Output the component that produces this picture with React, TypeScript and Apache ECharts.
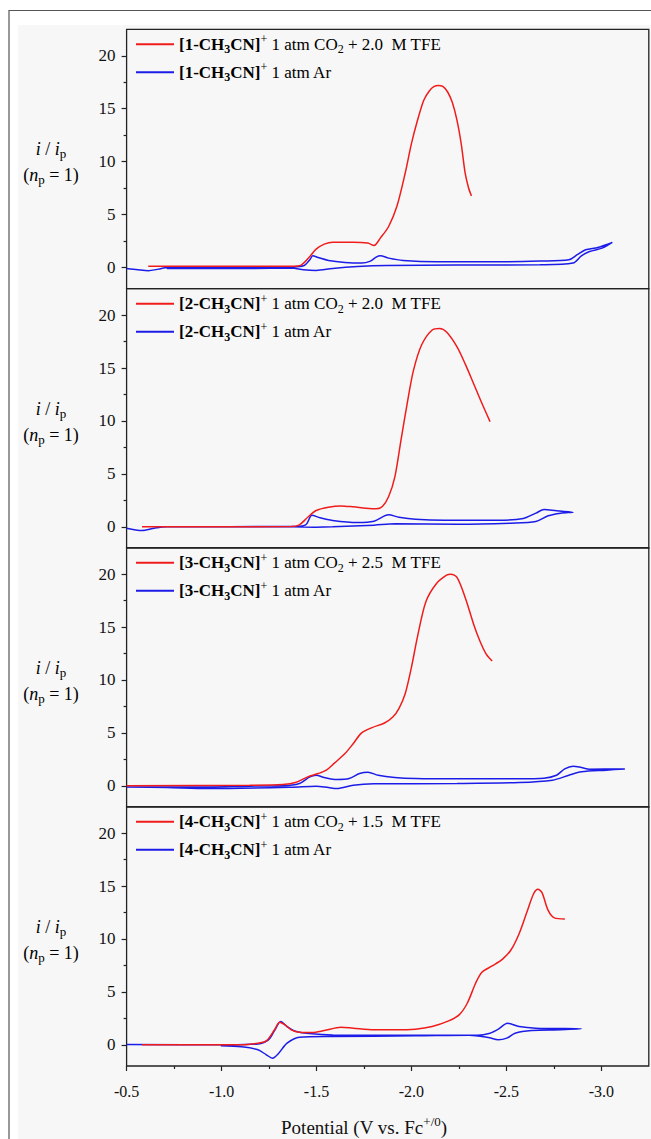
import React, { useEffect, useRef } from "react";
import * as echarts from "echarts";

// ---------- data ----------
const xMajorTicks = [-0.5, -1.0, -1.5, -2.0, -2.5, -3.0];
const xMinorTicks = [-0.75, -1.25, -1.75, -2.25, -2.75];
const yMajorTicks = [0, 5, 10, 15, 20];
const yMinorTicks = [2.5, 7.5, 12.5, 17.5];

const complexIds = ["1", "2", "3", "4"];
const tfeConc = ["2.0", "2.0", "2.5", "1.5"];

const co2Panel1: [number, number][] = [
  [-0.614, 0.1], [-1.367, 0.1], [-1.421, 0.25], [-1.465, 1.04], [-1.498, 1.73],
  [-1.541, 2.2], [-1.585, 2.39], [-1.694, 2.39], [-1.77, 2.3], [-1.803, 2.08],
  [-1.836, 2.77], [-1.88, 3.87], [-1.923, 5.75], [-1.967, 8.9], [-2.0, 11.7],
  [-2.032, 13.9], [-2.065, 15.8], [-2.095, 16.7], [-2.12, 17.1], [-2.142, 17.2], [-2.165, 17.1],
  [-2.19, 16.6], [-2.215, 15.6], [-2.24, 13.9], [-2.262, 11.7], [-2.283, 8.9], [-2.301, 7.5], [-2.316, 6.76],
];
const arPanel1: [number, number][] = [
  [-0.5, -0.1], [-0.559, -0.22], [-0.614, -0.31], [-0.668, -0.16], [-0.712, 0],
  [-1.148, 0], [-1.367, 0.06], [-1.432, 0.16], [-1.465, 0.72], [-1.48, 1.1],
  [-1.508, 0.94], [-1.563, 0.66], [-1.65, 0.47], [-1.738, 0.41], [-1.781, 0.57],
  [-1.814, 0.97], [-1.836, 1.1], [-1.88, 0.88], [-1.956, 0.66], [-2.131, 0.53],
  [-2.458, 0.53], [-2.676, 0.6], [-2.829, 0.72], [-2.873, 1.2], [-2.917, 1.67],
  [-2.982, 1.89], [-3.058, 2.36],
  [-3.004, 1.82], [-2.938, 1.5], [-2.895, 1.1], [-2.851, 0.41], [-2.676, 0.25],
  [-2.24, 0.22], [-1.869, 0.19], [-1.716, 0.09], [-1.585, -0.09], [-1.498, -0.28],
  [-1.432, -0.22], [-1.367, -0.06], [-1.148, -0.1], [-0.93, -0.1], [-0.712, -0.1],
];

const co2Panel2: [number, number][] = [
  [-0.581, 0], [-1.367, 0.03], [-1.41, 0.19], [-1.454, 0.91], [-1.498, 1.54],
  [-1.563, 1.86], [-1.629, 1.98], [-1.694, 1.89], [-1.76, 1.76], [-1.814, 1.7],
  [-1.847, 1.92], [-1.88, 2.86], [-1.913, 4.75], [-1.945, 8.2], [-1.978, 11.7],
  [-2.011, 14.8], [-2.054, 17.2], [-2.109, 18.6], [-2.148, 18.74], [-2.185, 18.4],
  [-2.24, 17.0], [-2.283, 15.4], [-2.327, 13.55], [-2.371, 11.67], [-2.414, 9.94],
];
const arPanel2: [number, number][] = [
  [-0.5, -0.13], [-0.581, -0.35], [-0.646, -0.13], [-0.712, 0], [-1.367, 0.03],
  [-1.443, 0.19], [-1.476, 1.1], [-1.519, 0.85], [-1.585, 0.6], [-1.716, 0.41],
  [-1.803, 0.53], [-1.88, 1.13], [-1.934, 0.91], [-2.021, 0.72], [-2.174, 0.63],
  [-2.458, 0.63], [-2.589, 0.79], [-2.655, 1.29], [-2.699, 1.64], [-2.764, 1.51],
  [-2.851, 1.38],
  [-2.786, 1.29], [-2.72, 1.04], [-2.655, 0.5], [-2.524, 0.35], [-2.24, 0.25],
  [-1.913, 0.28], [-1.803, 0.16], [-1.585, 0], [-1.498, -0.03], [-1.367, 0], [-0.712, 0],
];

const co2Panel3: [number, number][] = [
  [-0.5, 0], [-1.148, 0.06], [-1.323, 0.13], [-1.389, 0.31], [-1.454, 0.85],
  [-1.509, 1.16], [-1.552, 1.48], [-1.596, 2.17], [-1.65, 3.05], [-1.694, 4.0],
  [-1.738, 5.0], [-1.793, 5.5], [-1.858, 5.94], [-1.902, 6.5], [-1.934, 7.3],
  [-1.967, 8.7], [-2.0, 11.2], [-2.032, 14.1], [-2.076, 17.4], [-2.131, 19.1],
  [-2.185, 19.9], [-2.207, 20.0], [-2.24, 19.7], [-2.283, 17.8], [-2.327, 15.3],
  [-2.36, 13.7], [-2.392, 12.5], [-2.425, 11.8],
];
const arPanel3: [number, number][] = [
  [-0.5, -0.1], [-0.93, -0.1], [-1.148, -0.03], [-1.323, 0], [-1.41, 0.22],
  [-1.465, 0.85], [-1.498, 1.0], [-1.541, 0.79], [-1.607, 0.6], [-1.672, 0.69],
  [-1.727, 1.16], [-1.771, 1.29], [-1.825, 1.0], [-1.912, 0.79], [-2.021, 0.69],
  [-2.24, 0.66], [-2.567, 0.66], [-2.698, 0.72], [-2.764, 1.0], [-2.807, 1.6],
  [-2.851, 1.86], [-2.895, 1.73], [-2.938, 1.57], [-3.124, 1.6],
  [-3.026, 1.48], [-2.895, 1.32], [-2.829, 1.0], [-2.742, 0.53], [-2.567, 0.31],
  [-2.24, 0.22], [-1.803, 0.19], [-1.694, 0.06], [-1.607, -0.25], [-1.563, -0.16],
  [-1.498, -0.03], [-1.367, -0.13], [-0.93, -0.25], [-0.712, -0.16], [-0.5, -0.1],
];

const co2Panel4: [number, number][] = [
  [-0.581, 0], [-1.105, 0], [-1.192, 0.16], [-1.236, 0.38], [-1.279, 1.42],
  [-1.306, 2.14], [-1.334, 1.89], [-1.367, 1.42], [-1.41, 1.19], [-1.476, 1.16],
  [-1.541, 1.35], [-1.629, 1.67], [-1.694, 1.57], [-1.803, 1.42], [-1.912, 1.42],
  [-2.021, 1.48], [-2.109, 1.73], [-2.196, 2.26], [-2.251, 2.83], [-2.294, 3.93],
  [-2.338, 5.82], [-2.371, 6.86], [-2.425, 7.45], [-2.48, 8.1], [-2.524, 8.96],
  [-2.567, 10.5], [-2.611, 12.7], [-2.644, 14.3], [-2.666, 14.7], [-2.687, 14.4],
  [-2.72, 12.7], [-2.753, 12.0], [-2.808, 11.9],
];
const arPanel4: [number, number][] = [
  [-0.5, 0.03], [-1.039, 0], [-1.192, 0.09], [-1.247, 0.47], [-1.279, 1.35],
  [-1.312, 2.2], [-1.345, 1.73], [-1.389, 1.29], [-1.476, 1.04], [-1.585, 0.94],
  [-2.021, 0.91], [-2.349, 0.91], [-2.414, 1.1], [-2.458, 1.48], [-2.506, 2.04],
  [-2.567, 1.73], [-2.655, 1.57], [-2.895, 1.51],
  [-2.786, 1.42], [-2.633, 1.35], [-2.546, 1.1], [-2.502, 0.63], [-2.458, 0.47],
  [-2.404, 0.69], [-2.305, 0.91], [-2.021, 0.85], [-1.585, 0.79], [-1.41, 0.72],
  [-1.345, 0.16], [-1.301, -0.79], [-1.268, -1.26], [-1.236, -0.94], [-1.192, -0.47],
  [-1.105, -0.19], [-0.996, -0.09],
];

const co2Data = [co2Panel1, co2Panel2, co2Panel3, co2Panel4];
const arData = [arPanel1, arPanel2, arPanel3, arPanel4];

// ---------- layout / style ----------
const SERIF = '"Liberation Serif", "Times New Roman", "DejaVu Serif", serif';
const panelTops = [29.3, 288.7, 547.7, 806.7];
const panelH = 259.3;
const gridLeft = 126.6;
const gridW = 522.2;
const RED = "#f01c1c";
const BLUE = "#1c1ce8";
const AXIS = "#222";

export default function App() {
  const ref = useRef<HTMLDivElement>(null);
  useEffect(() => {
    if (!ref.current) return;
    const chart = echarts.init(ref.current, undefined, { renderer: "svg" });

    const grids = panelTops.map((t) => ({
      left: gridLeft,
      top: t,
      width: gridW,
      height: panelH,
      show: true,
      borderColor: AXIS,
      borderWidth: 1.3,
      backgroundColor: "transparent",
    }));

    const xAxes: any[] = panelTops.map((_, i) => ({
      type: "value",
      gridIndex: i,
      position: "bottom",
      min: -3.25,
      max: -0.5,
      inverse: true,
      axisLine: { show: false, onZero: false },
      splitLine: { show: false },
      axisTick: {
        show: i === 3,
        customValues: xMajorTicks,
        length: 5,
        lineStyle: { color: AXIS, width: 1.2 },
      },
      axisLabel: {
        show: i === 3,
        customValues: xMajorTicks,
        margin: 17,
        formatter: (v: number) => v.toFixed(1),
        fontFamily: SERIF,
        fontSize: 16,
        color: "#111",
      },
    }));
    xAxes.push({
      type: "value",
      gridIndex: 3,
      position: "bottom",
      min: -3.25,
      max: -0.5,
      inverse: true,
      axisLine: { show: false, onZero: false },
      splitLine: { show: false },
      axisLabel: { show: false },
      axisTick: {
        show: true,
        customValues: xMinorTicks,
        length: 3,
        lineStyle: { color: AXIS, width: 1.2 },
      },
    });

    const yAxes: any[] = panelTops.map((_, i) => ({
      type: "value",
      gridIndex: i,
      position: "left",
      min: -2,
      max: 22.5,
      axisLine: { show: false, onZero: false },
      splitLine: { show: false },
      axisTick: {
        show: true,
        customValues: yMajorTicks,
        length: 5,
        lineStyle: { color: AXIS, width: 1.2 },
      },
      axisLabel: {
        show: true,
        customValues: yMajorTicks,
        margin: 11,
        fontFamily: SERIF,
        fontSize: 17,
        color: "#111",
      },
    }));
    panelTops.forEach((_, i) => {
      yAxes.push({
        type: "value",
        gridIndex: i,
        position: "left",
        offset: 0,
        min: -2,
        max: 22.5,
        axisLine: { show: false, onZero: false },
        splitLine: { show: false },
        axisLabel: { show: false },
        axisTick: {
          show: true,
          customValues: yMinorTicks,
          length: 3,
          lineStyle: { color: AXIS, width: 1.2 },
        },
      });
    });

    const series: any[] = [];
    complexIds.forEach((id, i) => {
      series.push({
        type: "line",
        name: "CO2-" + id,
        xAxisIndex: i,
        yAxisIndex: i,
        data: co2Data[i],
        showSymbol: false,
        smooth: 0.3,
        lineStyle: { color: RED, width: 1.5 },
        itemStyle: { color: RED },
        z: 3,
      });
      series.push({
        type: "line",
        name: "Ar-" + id,
        xAxisIndex: i,
        yAxisIndex: i,
        data: arData[i],
        showSymbol: false,
        smooth: 0.3,
        lineStyle: { color: BLUE, width: 1.5 },
        itemStyle: { color: BLUE },
        z: 2,
      });
    });

    const rich = {
      b: { fontFamily: SERIF, fontWeight: "bold", fontSize: 17, lineHeight: 22, color: "#000" },
      bs: { fontFamily: SERIF, fontWeight: "bold", fontSize: 12, lineHeight: 12, verticalAlign: "bottom", color: "#000" },
      sup: { fontFamily: SERIF, fontSize: 12, lineHeight: 12, verticalAlign: "top", color: "#000" },
      n: { fontFamily: SERIF, fontSize: 17, lineHeight: 22, color: "#000" },
      sub: { fontFamily: SERIF, fontSize: 12, lineHeight: 12, verticalAlign: "bottom", color: "#000" },
    };

    const legends = complexIds.map((id, i) => ({
      orient: "vertical",
      left: 136,
      top: panelTops[i] + 4,
      padding: 0,
      itemGap: 6,
      itemWidth: 38,
      itemHeight: 2,
      icon: "rect",
      selectedMode: false,
      data: ["CO2-" + id, "Ar-" + id],
      formatter: (name: string) => {
        const kind = name.split("-")[0];
        const head = `{b|[${id}-CH}{bs|3}{b|CN]}{sup|+}`;
        if (kind === "CO2") {
          return `${head}{n| 1 atm CO}{sub|2}{n| + ${tfeConc[i]}  M TFE}`;
        }
        return `${head}{n| 1 atm Ar}`;
      },
      textStyle: { fontFamily: SERIF, fontSize: 17, color: "#000", rich },
    }));

    const ylabRich = {
      i: { fontFamily: SERIF, fontStyle: "italic", fontSize: 18, lineHeight: 22, fill: "#000" },
      r: { fontFamily: SERIF, fontSize: 18, lineHeight: 22, fill: "#000" },
      s: { fontFamily: SERIF, fontSize: 13, lineHeight: 13, verticalAlign: "bottom", fill: "#000" },
      u: { fontFamily: SERIF, fontSize: 13, lineHeight: 13, verticalAlign: "top", fill: "#000" },
    };

    const graphics: any[] = [
      {
        type: "rect",
        z: -100,
        silent: true,
        shape: { x: 9, y: 10.5, width: 700, height: 1200 },
        style: { fill: "#ffffff", stroke: "#555", lineWidth: 1.2 },
      },
      {
        type: "rect",
        z: -99,
        silent: true,
        shape: { x: 18, y: 25, width: 700, height: 1200 },
        style: { fill: "#f7f7f7" },
      },
    ];
    panelTops.forEach((t) => {
      graphics.push({
        type: "text",
        x: 51,
        y: t + 120,
        silent: true,
        style: {
          text: "{i|i}{r| / }{i|i}{s|p}",
          rich: ylabRich,
          align: "center",
          verticalAlign: "middle",
        },
      });
      graphics.push({
        type: "text",
        x: 51,
        y: t + 146,
        silent: true,
        style: {
          text: "{r|(}{i|n}{s|p}{r| = 1)}",
          rich: ylabRich,
          align: "center",
          verticalAlign: "middle",
        },
      });
    });
    graphics.push({
      type: "text",
      x: 364,
      y: 1127,
      silent: true,
      style: {
        text: "{r|Potential (V vs. Fc}{u|+/0}{r|)}",
        rich: {
          r: { fontFamily: SERIF, fontSize: 19, lineHeight: 24, fill: "#111" },
          u: { fontFamily: SERIF, fontSize: 13, lineHeight: 13, verticalAlign: "top", fill: "#111" },
        },
        align: "center",
        verticalAlign: "middle",
      },
    });

    chart.setOption({
      animation: false,
      backgroundColor: "#ffffff",
      grid: grids,
      xAxis: xAxes,
      yAxis: yAxes,
      legend: legends,
      series,
      graphic: graphics,
    });

    return () => chart.dispose();
  }, []);

  return (
    <div
      ref={ref}
      style={{ position: "absolute", left: 0, top: 0, width: 651, height: 1139 }}
    />
  );
}
